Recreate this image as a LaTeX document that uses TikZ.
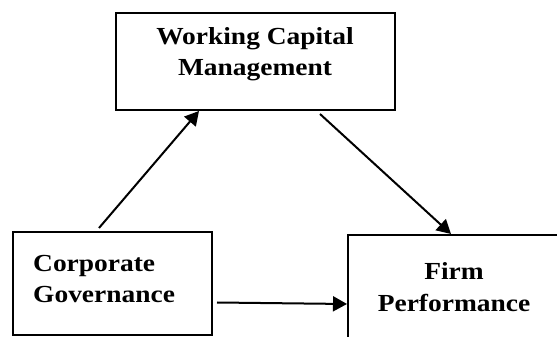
\documentclass[tikz,border=0pt]{standalone}
\usepackage{fontspec}
\setmainfont{Liberation Serif}[FakeStretch=1.12]
\usetikzlibrary{arrows.meta,calc}

\begin{document}
\begin{tikzpicture}[x=1pt,y=1pt,
  box/.style={draw, line width=2pt, rectangle, inner sep=0pt},
  label/.style={font=\fontsize{24.5}{31.5}\selectfont\bfseries, align=center, inner sep=0pt},
  link/.style={line width=2pt, -{Triangle[length=14pt,width=15pt]}}
]
  \clip (0,0) rectangle (557,337);

  % mediator
  \node[box, minimum width=279pt, minimum height=97pt] (wcm) at (255.5,275.5) {};
  \node[label] (wcmtext) at (255,283) {Working Capital\\Management};

  % independent variable
  \node[box, minimum width=199pt, minimum height=103pt, anchor=south west] (cg) at (12,1) {};
  \node[label, align=left, anchor=west] (cgtext) at (33,58) {Corporate\\Governance};

  % dependent variable (frame runs past the page edge)
  \node[box, minimum width=260pt, minimum height=160pt, anchor=north west] (fp) at (347,103) {};
  \node[label] (fptext) at (454,50) {Firm\\Performance};

  % paths
  \draw[link] ($(cg.north)+(-13.5,3)$) -- ($(wcm.south)+(-56.5,0)$);
  \draw[link] ($(wcm.south)+(64.5,-3)$) -- ($(fp.north west)+(104,0)$);
  \draw[link] ($(cg.east)+(4,-19)$) -- ($(fp.north west)+(0,-70)$);
\end{tikzpicture}
\end{document}
